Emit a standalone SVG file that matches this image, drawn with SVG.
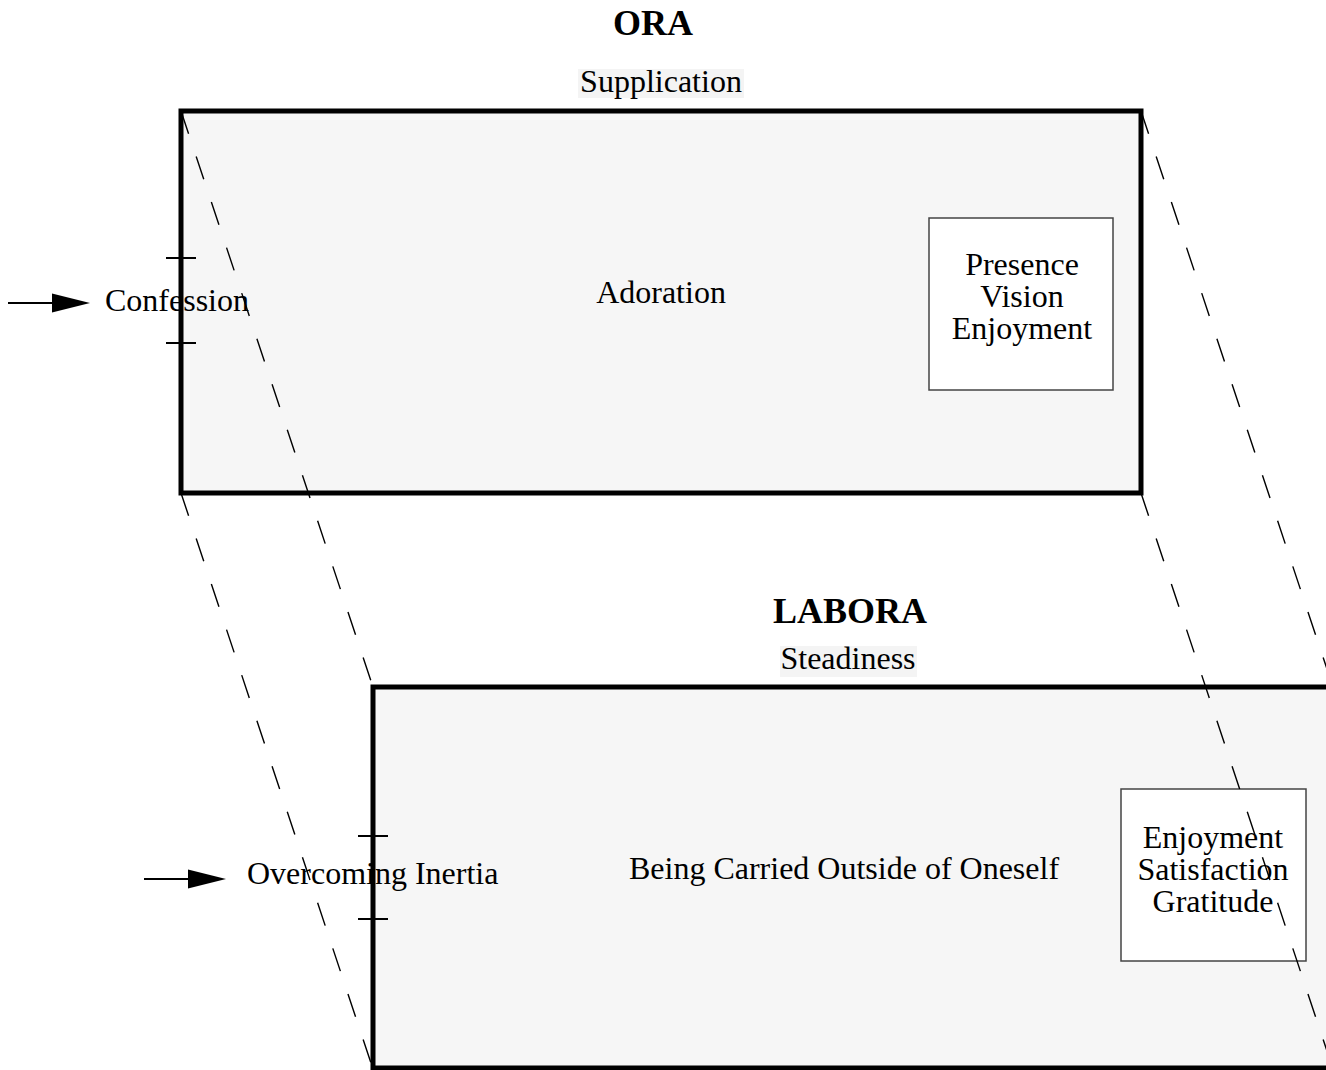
<svg xmlns="http://www.w3.org/2000/svg" width="1326" height="1070" viewBox="0 0 1326 1070">
<style>
.frame{fill:#f6f6f6;stroke:#000;stroke-width:5}
.inner{fill:#fff;stroke:#444;stroke-width:1.5}
.hl{fill:#f4f4f4;stroke:none}
.t{font-family:"Liberation Serif","Times New Roman",serif;font-size:32px;fill:#000}
.b{font-family:"Liberation Serif","Times New Roman",serif;font-size:36px;font-weight:bold;fill:#000}
.m{text-anchor:middle}
.tick{stroke:#000;stroke-width:2}
.dash{stroke:#000;stroke-width:1.4;stroke-dasharray:24 24;fill:none}
.arr{stroke:#000;stroke-width:2;fill:none}
</style>
<rect width="1326" height="1070" fill="#fff"/>
<g id="node-ora">
<text class="b m" x="653" y="35">ORA</text>
<rect class="hl" x="578" y="69" width="166" height="29"/>
<text class="t m" x="661" y="92">Supplication</text>
<rect class="frame" x="181" y="111" width="960" height="382"/>
<text class="t m" x="661" y="303">Adoration</text>
</g>
<g id="node-presence">
<rect class="inner" x="929" y="218" width="184" height="172"/>
<text class="t m" x="1022" y="275">Presence</text>
<text class="t m" x="1022" y="307">Vision</text>
<text class="t m" x="1022" y="339">Enjoyment</text>
</g>
<g id="node-confession">
<text class="t" x="105" y="311">Confession</text>
<line class="tick" x1="166" y1="258" x2="196" y2="258"/>
<line class="tick" x1="166" y1="343" x2="196" y2="343"/>
</g>
<g id="node-labora">
<text class="b m" x="850" y="623">LABORA</text>
<rect class="hl" x="780" y="646" width="137" height="31"/>
<text class="t m" x="848" y="669">Steadiness</text>
<rect class="frame" x="373" y="687" width="960" height="381"/>
<text class="t m" x="844" y="879">Being Carried Outside of Oneself</text>
</g>
<g id="node-enjoyment">
<rect class="inner" x="1121" y="789" width="185" height="172"/>
<text class="t m" x="1213" y="848">Enjoyment</text>
<text class="t m" x="1213" y="880">Satisfaction</text>
<text class="t m" x="1213" y="912">Gratitude</text>
</g>
<g id="node-inertia">
<text class="t" x="247" y="884">Overcoming Inertia</text>
<line class="tick" x1="358" y1="836" x2="388" y2="836"/>
<line class="tick" x1="358" y1="919" x2="388" y2="919"/>
</g>
<g id="connectors">
<line class="arr" x1="8" y1="303" x2="60" y2="303"/>
<polygon points="52,293.5 90,303 52,312.5" fill="#000"/>
<line class="arr" x1="144" y1="879" x2="196" y2="879"/>
<polygon points="188,869.5 226,879 188,888.5" fill="#000"/>
<line class="dash" x1="181" y1="111" x2="373" y2="687"/>
<line class="dash" x1="181" y1="493" x2="373" y2="1069"/>
<line class="dash" x1="1141" y1="111" x2="1333" y2="687"/>
<line class="dash" x1="1141" y1="493" x2="1333" y2="1069"/>
</g>
</svg>
